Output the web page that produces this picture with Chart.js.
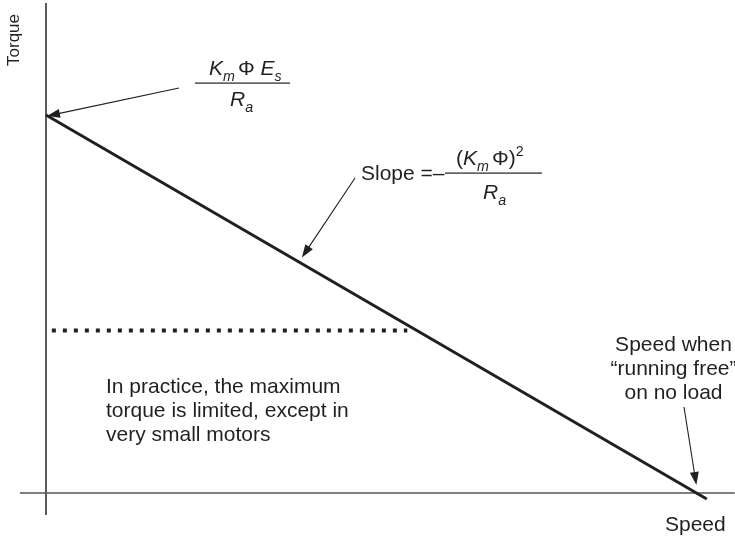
<!DOCTYPE html>
<html>
<head>
<meta charset="utf-8">
<script src="https://cdn.jsdelivr.net/npm/chart.js"></script>
<style>
body{margin:0;background:#fff}
#wrap{width:735px;height:539px}
</style>
</head>
<body>
<div id="wrap"><canvas id="myChart"></canvas></div>
<script>
// torque / speed line (% of stall torque, % of no-load speed)
const speed = [0, 101.5];
const torque = [100, -1.6];
// practical limit on the maximum torque
const limitSpeed = [0.9, 55.5];
const limitTorque = [43, 43];
// the two axes
const axisXSpeed = [-4, 105.8];
const axisXTorque = [0, 0];
const axisYSpeed = [0, 0];
const axisYTorque = [129.6, -5.8];

const ink = '#231f20';
const FONT = '"Liberation Sans", Arial, Helvetica, sans-serif';

const pts = (xs, ys) => xs.map((v, i) => ({x: v, y: ys[i]}));

// draws a run of text pieces (italic / subscript / superscript)
const rich = (ctx, x, y, runs, size) => {
    runs.forEach(r => {
        const small = r.sub || r.sup;
        const fs = small ? size * 0.68 : size;
        ctx.font = (r.it ? 'italic ' : '') + fs + 'px ' + FONT;
        const dy = r.sub ? size * 0.28 : (r.sup ? -size * 0.42 : 0);
        x += r.gap || 0;
        ctx.fillText(r.t, x, y + dy);
        x += ctx.measureText(r.t).width;
    });
};

const arrow = (ctx, x1, y1, x2, y2) => {
    const a = Math.atan2(y2 - y1, x2 - x1);
    const len = 13, hw = 4.5;
    ctx.beginPath();
    ctx.moveTo(x1, y1);
    ctx.lineTo(x2 - Math.cos(a) * len * 0.8, y2 - Math.sin(a) * len * 0.8);
    ctx.lineWidth = 1.1;
    ctx.stroke();
    ctx.beginPath();
    ctx.moveTo(x2, y2);
    ctx.lineTo(x2 - Math.cos(a) * len + Math.sin(a) * hw, y2 - Math.sin(a) * len - Math.cos(a) * hw);
    ctx.lineTo(x2 - Math.cos(a) * len - Math.sin(a) * hw, y2 - Math.sin(a) * len + Math.cos(a) * hw);
    ctx.closePath();
    ctx.fill();
};

const notes = {
    id: 'notes',
    afterDatasetsDraw(chart) {
        const {ctx, scales: {x, y}} = chart;
        ctx.save();
        ctx.fillStyle = ink;
        ctx.strokeStyle = ink;
        ctx.textBaseline = 'alphabetic';

        // axis titles
        ctx.font = '17px ' + FONT;
        ctx.save();
        ctx.translate(19, 40);
        ctx.rotate(-Math.PI / 2);
        ctx.textAlign = 'center';
        ctx.fillText('Torque', 0, 0);
        ctx.restore();
        ctx.font = '21px ' + FONT;
        ctx.textAlign = 'left';
        ctx.fillText('Speed', 665, 531);

        // stall torque  Km Φ Es / Ra
        rich(ctx, 209, 75, [
            {t: 'K', it: true}, {t: 'm', it: true, sub: true},
            {t: 'Φ', gap: 3}, {t: ' '}, {t: 'E', it: true}, {t: 's', it: true, sub: true}
        ], 21);
        ctx.fillRect(195, 82.5, 95, 1.2);
        rich(ctx, 230, 106, [{t: 'R', it: true}, {t: 'a', it: true, sub: true}], 21);
        const x0 = x.getPixelForValue(speed[0]), y0 = y.getPixelForValue(torque[0]);
        arrow(ctx, 179, 88, x0 + 1, y0 + 1);

        // slope
        ctx.font = '21px ' + FONT;
        ctx.fillText('Slope =–', 361, 180);
        rich(ctx, 456, 165, [
            {t: '('}, {t: 'K', it: true}, {t: 'm', it: true, sub: true},
            {t: 'Φ', gap: 3}, {t: ')'}, {t: '2', sup: true}
        ], 21);
        ctx.fillRect(445, 172.5, 97, 1.2);
        rich(ctx, 483, 199, [{t: 'R', it: true}, {t: 'a', it: true, sub: true}], 21);
        const sMid = 39;
        const tMid = torque[0] + (torque[1] - torque[0]) * (sMid - speed[0]) / (speed[1] - speed[0]);
        arrow(ctx, 355, 178, x.getPixelForValue(sMid) + 2, y.getPixelForValue(tMid) - 5);

        // no-load speed
        ctx.font = '21px ' + FONT;
        ctx.textAlign = 'center';
        ctx.fillText('Speed when', 673.5, 351);
        ctx.fillText('\u201Crunning free\u201D', 673.5, 375);
        ctx.fillText('on no load', 673.5, 399);
        const sFree = speed[0] + (speed[1] - speed[0]) * torque[0] / (torque[0] - torque[1]);
        arrow(ctx, 684, 407, x.getPixelForValue(sFree), y.getPixelForValue(0) - 8);

        // torque limit note
        ctx.textAlign = 'left';
        ctx.fillText('In practice, the maximum', 106, 393);
        ctx.fillText('torque is limited, except in', 106, 417);
        ctx.fillText('very small motors', 106, 441);
        ctx.restore();
    }
};

const ctx = document.getElementById('myChart').getContext('2d');
const myChart = new Chart(ctx, {
    type: 'scatter',
    data: {
        datasets: [
            {data: pts(axisXSpeed, axisXTorque), showLine: true, borderColor: '#555', borderWidth: 1.6, pointRadius: 0, order: 3},
            {data: pts(axisYSpeed, axisYTorque), showLine: true, borderColor: '#333', borderWidth: 1.6, pointRadius: 0, order: 3},
            {data: pts(limitSpeed, limitTorque), showLine: true, borderColor: ink, borderWidth: 4, borderDash: [4, 7], borderCapStyle: 'butt', pointRadius: 0, order: 2},
            {data: pts(speed, torque), showLine: true, borderColor: ink, borderWidth: 3, pointRadius: 0, order: 1}
        ]
    },
    options: {
        responsive: true,
        maintainAspectRatio: false,
        animation: false,
        devicePixelRatio: 1,
        layout: {padding: 0},
        plugins: {legend: {display: false}, tooltip: {enabled: false}},
        scales: {
            x: {type: 'linear', display: false, min: -46 / 6.51, max: 689 / 6.51},
            y: {type: 'linear', display: false, min: -46 / 3.78, max: 493 / 3.78}
        }
    },
    plugins: [notes]
});
</script>
</body>
</html>
